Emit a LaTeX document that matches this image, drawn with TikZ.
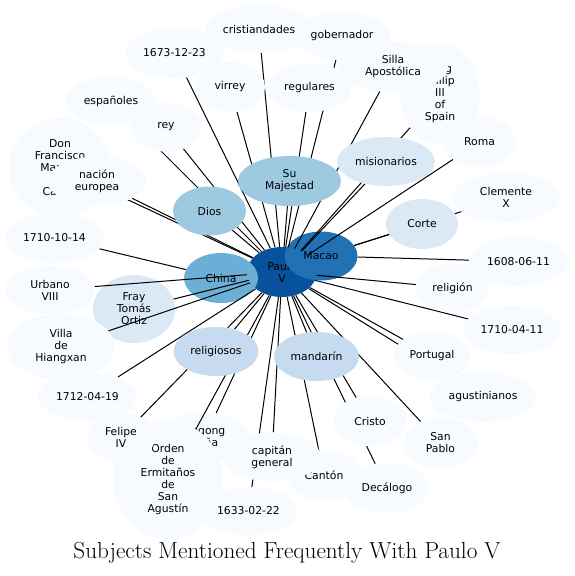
\documentclass[tikz,border=0pt]{standalone}
\usepackage{fontspec}
\newfontfamily\labelfont{DejaVu Sans}
\usetikzlibrary{shapes.geometric}
\pgfdeclarelayer{back}
\pgfdeclarelayer{edges}
\pgfsetlayers{back,edges,main}
\definecolor{blueA}{HTML}{F7FBFF}
\definecolor{blueB}{HTML}{DBE9F6}
\definecolor{blueC}{HTML}{C6DBEF}
\definecolor{blueD}{HTML}{9ECAE1}
\definecolor{blueE}{HTML}{6BAED6}
\definecolor{blueF}{HTML}{2171B5}
\definecolor{blueG}{HTML}{08519C}

\begin{document}
\begin{tikzpicture}[x=1pt,y=-1pt,
  subj/.style={ellipse,fill=blueA,inner sep=0pt,align=center,minimum height=49,
    font=\labelfont\fontsize{10.8}{12}\selectfont},
  dims/.style 2 args={minimum width=#1,minimum height=#2},
  link/.style={line width=1pt,black}]
\useasboundingbox (0,0) rectangle (574,576);
\begin{pgfonlayer}{back}
\node[subj,fill=blueG,dims={70}{50}] (paulo) at (282,272) {Paulo\\V};
\node[subj,fill=blueF,dims={73}{49}] (macao) at (321,256) {Macao};
\node[subj,fill=blueE,dims={74}{50}] (china) at (221,278) {China};
\node[subj,fill=blueB,dims={82}{68}] (fray) at (134,309) {Fray\\Tomás\\Ortiz};
\node[subj,dims={88}{49}] (sogong) at (205,437) {Sogong\\Peña};
\end{pgfonlayer}
\node[subj,dims={108}{48}] (cristiandades) at (259,29) {cristiandades};
\node[subj,dims={96}{48}] (gobernador) at (342,36) {gobernador};
\node[subj,dims={99}{50}] (fecha1673) at (174.5,53) {1673-12-23};
\node[subj,dims={70}{50}] (virrey) at (230,87) {virrey};
\node[subj,dims={83}{49}] (regulares) at (309.5,87.5) {regulares};
\node[subj,dims={79}{102}] (philip) at (440,94) {King\\Philip\\III\\of\\Spain};
\node[subj,dims={110}{50}] (silla) at (393,67) {Silla\\Apostólica};
\node[subj,dims={73}{50}] (roma) at (479.5,142) {Roma};
\node[subj,fill=blueB,dims={98}{49}] (misionarios) at (386,161.5) {misionarios};
\node[subj,fill=blueD,dims={103}{50}] (majestad) at (289.5,181) {Su\\Majestad};
\node[subj,dims={108}{49}] (clemente) at (506,197.5) {Clemente\\X};
\node[subj,fill=blueB,dims={72}{50}] (corte) at (422,224) {Corte};
\node[subj,fill=blueD,dims={73}{49}] (dios) at (209.5,211) {Dios};
\node[subj,dims={90}{49}] (espanoles) at (111,101) {españoles};
\node[subj,dims={72}{49}] (rey) at (166,127) {rey};
\node[subj,dims={102}{100}] (donfrancisco) at (60,168) {Don\\Francisco\\Manuel\\de\\Castro};
\node[subj,dims={98}{49}] (nacion) at (97,181) {nación\\europea};
\node[subj,dims={99}{50}] (fecha1710b) at (54.5,238) {1710-10-14};
\node[subj,dims={90}{48}] (urbano) at (50,290) {Urbano\\VIII};
\node[subj,dims={108}{66}] (villa) at (61,347) {Villa\\de\\Hiangxan};
\node[subj,dims={99}{49}] (fecha1712) at (87.5,396.5) {1712-04-19};
\node[subj,dims={110}{118}] (orden) at (168,480) {Orden\\de\\Ermitaños\\de\\San\\Agustín};
\node[subj,dims={68}{49}] (felipe) at (121,437.5) {Felipe\\IV};
\node[subj,dims={98}{48}] (fecha1633) at (248.5,511) {1633-02-22};
\node[subj,dims={74}{49}] (canton) at (324,475.5) {Cantón};
\node[subj,dims={98}{49}] (capitan) at (272,457) {capitán\\general};
\node[subj,dims={86}{50}] (decalogo) at (387,488) {Decálogo};
\node[subj,dims={74}{50}] (cristo) at (370,421) {Cristo};
\node[subj,dims={75}{50}] (sanpablo) at (440.5,443) {San\\Pablo};
\node[subj,dims={108}{50}] (agustinianos) at (483,397) {agustinianos};
\node[subj,dims={76}{49}] (portugal) at (432,355.5) {Portugal};
\node[subj,fill=blueC,dims={85}{49}] (mandarin) at (316.5,356.5) {mandarín};
\node[subj,fill=blueC,dims={85}{49}] (religiosos) at (216,351.5) {religiosos};
\node[subj,dims={98}{48}] (fecha1710a) at (512,330) {1710-04-11};
\node[subj,dims={73}{49}] (religion) at (452.5,288) {religión};
\node[subj,dims={99}{49}] (fecha1608) at (518.5,261.5) {1608-06-11};
\node[font=\fontsize{23.2}{26}\selectfont] (titulo) at (287,553) {Subjects Mentioned Frequently With Paulo V};
\begin{pgfonlayer}{edges}
\foreach \n in {cristiandades,gobernador,fecha1673,virrey,regulares,philip,silla,roma,
  misionarios,majestad,dios,espanoles,rey,donfrancisco,nacion,urbano,villa,fray,
  fecha1712,felipe,orden,sogong,fecha1633,capitan,canton,decalogo,cristo,sanpablo,
  agustinianos,portugal,mandarin,religiosos,fecha1710a,religion}
  \draw[link] (\n) -- (paulo);
\foreach \n in {corte,clemente,fecha1608}
  \draw[link] (\n) -- (macao);
\draw[link] (fecha1710b) -- (china);
\end{pgfonlayer}
\end{tikzpicture}
\end{document}
